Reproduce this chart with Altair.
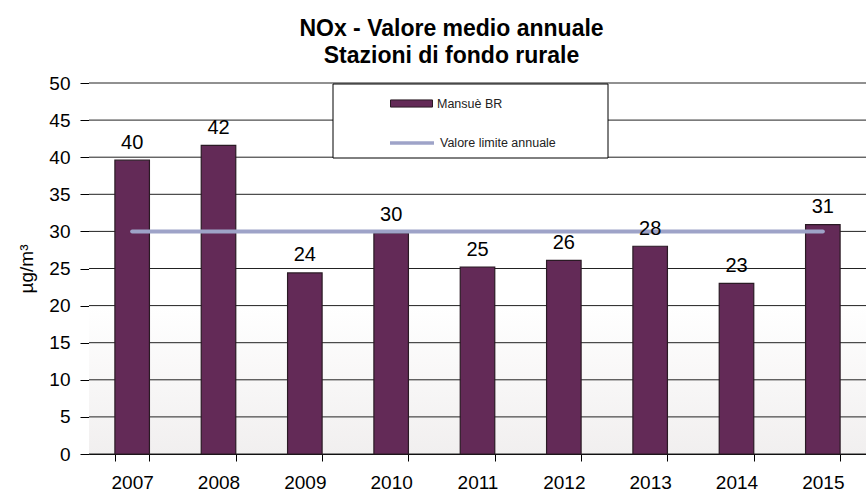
import altair as alt
import pandas as pd

# ---- data ----
years = ["2007", "2008", "2009", "2010", "2011", "2012", "2013", "2014", "2015"]
values = [39.6, 41.6, 24.4, 29.8, 25.2, 26.1, 28.0, 23.0, 30.9]
limit_values = [30, 30, 30, 30, 30, 30, 30, 30, 30]
y_ticks = [0, 5, 10, 15, 20, 25, 30, 35, 40, 45, 50]
series_name = "Mansuè BR"
limit_name = "Valore limite annuale"
title_lines = ["NOx - Valore medio annuale", "Stazioni di fondo rurale"]
y_title = "µg/m³"

FONT = "Liberation Sans"
BAR_COLOR = "#632a57"
BAR_STROKE = "#2a1a24"
LINE_COLOR = "#9ea3c8"
W, H = 777, 371

bars_df = pd.DataFrame({"anno": years, "valore": values, "serie": [series_name] * len(years)})
limit_df = pd.DataFrame({"anno": years, "valore": limit_values, "serie": [limit_name] * len(years)})
grid_df = pd.DataFrame({"valore": y_ticks})
one_df = pd.DataFrame({"k": [0]})

x_axis = alt.Axis(
    title=None, labelAngle=0, tickBand="extent", grid=False,
    labelFontSize=19, labelFont=FONT, labelColor="#000000",
    tickSize=7, tickColor="#000000", domainColor="#000000",
    labelPadding=12,
)
x_enc = alt.X(
    "anno:N",
    sort=years,
    scale=alt.Scale(paddingInner=0.6, paddingOuter=0.3),
    axis=x_axis,
)
y_scale = alt.Scale(domain=[0, 50], nice=False, zero=True)
y_axis = alt.Axis(
    values=y_ticks, title=y_title, grid=False, labelOverlap=False,
    labelFontSize=19, labelFont=FONT, labelColor="#000000",
    tickSize=9, tickColor="#000000", domainColor="#000000",
    labelPadding=10, titleFontSize=19, titleFont=FONT,
    titleFontWeight="normal", titleColor="#000000", titlePadding=12,
)
y_enc = alt.Y("valore:Q", scale=y_scale, axis=y_axis)

background = alt.Chart(one_df).mark_rect(
    color=alt.Gradient(
        gradient="linear",
        stops=[
            alt.GradientStop(color="#ffffff", offset=0),
            alt.GradientStop(color="#ffffff", offset=0.6),
            alt.GradientStop(color="#f1efef", offset=1),
        ],
        x1=0, x2=0, y1=0, y2=1,
    )
).encode(x=alt.value(0), x2=alt.value(W), y=alt.value(0), y2=alt.value(H))

grid = alt.Chart(grid_df).mark_rule(color="#222222", strokeWidth=1).encode(y=y_enc)

bars = alt.Chart(bars_df).mark_bar(stroke=BAR_STROKE, strokeWidth=1.2).encode(
    x=x_enc,
    y=y_enc,
    fill=alt.Fill(
        "serie:N",
        scale=alt.Scale(domain=[series_name], range=[BAR_COLOR]),
        legend=alt.Legend(
            orient="none", legendX=301, legendY=-1, title=None,
            symbolType="M-1,-0.17H1V0.17H-1Z", symbolSize=1764,
            symbolStrokeColor=BAR_STROKE, symbolStrokeWidth=1,
            symbolFillColor=BAR_COLOR,
            labelFontSize=12.5, labelFont=FONT, labelColor="#222222",
        ),
    ),
)

legend_box = alt.Chart(one_df).mark_rect(
    fill="#ffffff", stroke="#000000", strokeWidth=1
).encode(x=alt.value(244), x2=alt.value(519), y=alt.value(1), y2=alt.value(75))

line = alt.Chart(limit_df).mark_line(strokeWidth=4, strokeCap="round").encode(
    x=x_enc,
    y=y_enc,
    stroke=alt.Stroke(
        "serie:N",
        scale=alt.Scale(domain=[limit_name], range=[LINE_COLOR]),
        legend=alt.Legend(
            orient="none", legendX=299, legendY=36, title=None,
            symbolType="stroke", symbolSize=1936, symbolStrokeWidth=3.5,
            labelFontSize=12.5, labelFont=FONT, labelColor="#222222",
        ),
    ),
)

labels = alt.Chart(bars_df).mark_text(
    baseline="alphabetic", dy=-11.5, fontSize=20, font=FONT, color="#000000"
).encode(
    x=x_enc,
    y=y_enc,
    text=alt.Text("valore:Q", format=".0f"),
)

chart = (
    alt.layer(background, grid, bars, legend_box, line, labels)
    .resolve_scale(fill="independent", stroke="independent")
    .properties(
        width=W,
        height=H,
        autosize=alt.AutoSizeParams(type="none"),
        padding={"left": 89, "top": 83, "right": 0, "bottom": 37},
        title=alt.TitleParams(
            text=title_lines, fontSize=23, fontWeight="bold", font=FONT,
            color="#000000", lineHeight=27, anchor="middle", dx=-26, offset=6,
        ),
    )
    .configure_view(stroke=None)
)

chart.save("out.html", embed_options={"renderer": "svg", "actions": False})
